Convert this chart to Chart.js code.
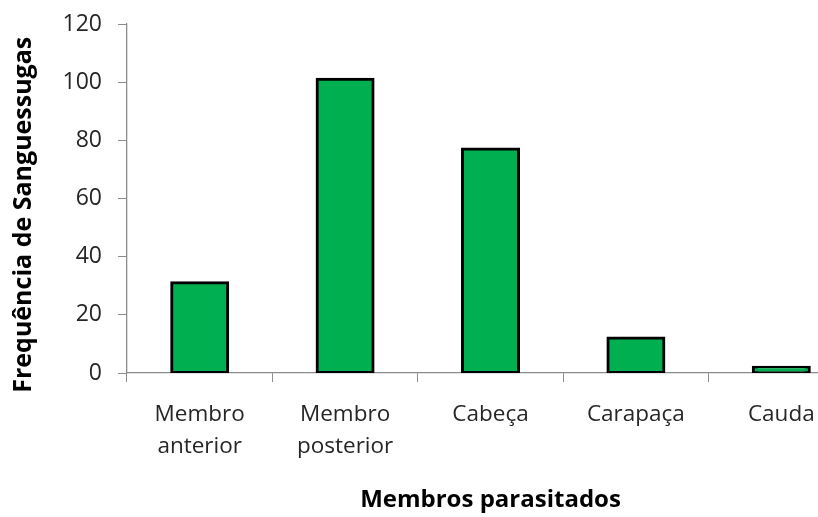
<!DOCTYPE html>
<html>
<head>
<meta charset="utf-8">
<script src="https://cdn.jsdelivr.net/npm/chart.js@4/dist/chart.umd.min.js"></script>
<style>
  html, body { margin: 0; padding: 0; background: #fff; overflow: hidden; }
  #wrap { position: relative; width: 860px; height: 517px; }
</style>
</head>
<body>
<div id="wrap"><canvas id="c" width="860" height="517"></canvas></div>
<script>
// Leech counts by body part
const categories = [["Membro", "anterior"], ["Membro", "posterior"], ["Cabeça"], ["Carapaça"], ["Cauda"]];
const counts = [31, 101, 77, 12, 2];
const yTicks = [0, 20, 40, 60, 80, 100, 120];

const axisGrey = '#8c8c8c';
const textFont = "'Open Sans', Lato, sans-serif";

new Chart(document.getElementById('c'), {
  type: 'bar',
  data: {
    labels: categories,
    datasets: [{
      data: counts,
      backgroundColor: '#00B050',
      borderColor: '#000000',
      borderWidth: 3,
      borderSkipped: false,
      // push the outline half outside the bar edge so it sits centred on it
      inflateAmount: 1.5,
      barPercentage: 0.385,
      categoryPercentage: 1.0
    }]
  },
  options: {
    responsive: false,
    animation: false,
    events: [],
    layout: { padding: { top: 24, right: 6, bottom: 0, left: 0 } },
    plugins: { legend: { display: false }, tooltip: { enabled: false } },
    scales: {
      x: {
        offset: true,
        grid: { drawOnChartArea: false, drawTicks: true, tickLength: 9, color: axisGrey, offset: true },
        border: { color: axisGrey, width: 1.3 },
        ticks: {
          color: '#262626',
          font: { family: textFont, size: 22.5, lineHeight: 1.42 },
          padding: 17,
          maxRotation: 0,
          autoSkip: false
        },
        title: {
          display: true,
          text: 'Membros parasitados',
          color: '#000',
          font: { family: textFont, size: 24, weight: 'bold' },
          padding: { top: 10, bottom: 2 }
        },
        afterFit: s => { s.height = 144; }
      },
      y: {
        min: 0,
        max: 120,
        afterBuildTicks: s => { s.ticks = yTicks.map(v => ({ value: v })); },
        grid: { drawOnChartArea: false, drawTicks: true, tickLength: 9, color: axisGrey },
        border: { color: axisGrey, width: 1.3 },
        ticks: {
          color: '#262626',
          font: { family: textFont, size: 23 },
          padding: 16
        },
        title: {
          display: true,
          // trailing spaces nudge the rotated title a little lower along the axis
          text: 'Frequência de Sanguessugas     ',
          color: '#000',
          font: { family: textFont, size: 25, weight: 'bold' },
          padding: { top: 9, bottom: 0 }
        },
        afterFit: s => {
          s.width = 127;
          // the top label may overhang; let the layout padding alone set the plot top
          s.paddingTop = 0;
          s.paddingBottom = 0;
        }
      }
    }
  }
});
</script>
</body>
</html>
